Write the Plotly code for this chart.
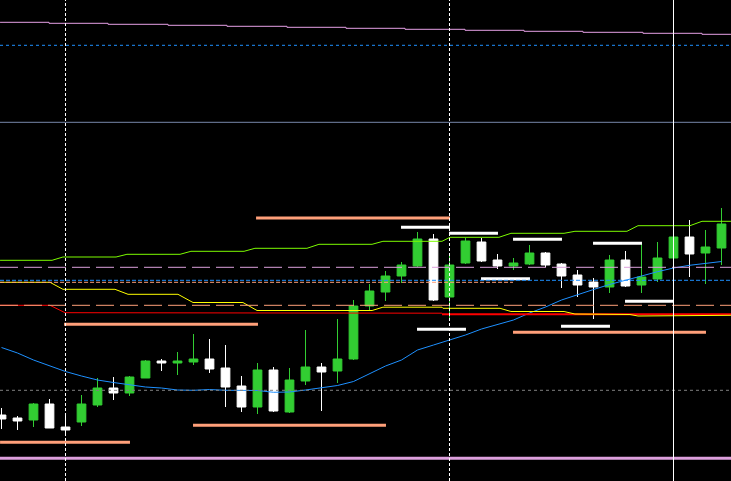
import plotly.graph_objects as go

# candles (x = bar index, prices in chart points)
bar_idx = list(range(46))
opens = [66, 63, 61, 77, 54, 59, 76, 93, 88, 103, 120, 118, 119, 122, 113, 95, 74, 111, 69, 100,
         114, 110, 122, 175, 189, 205, 215, 242, 184, 218, 239, 221, 215, 217, 228, 217, 206, 199,
         194, 221, 196, 202, 223, 244, 228, 233]
highs = [73, 65, 78, 82, 68, 86, 103, 104, 105, 121, 122, 129, 147, 142, 136, 105, 118, 114, 113, 151,
         118, 162, 181, 197, 210, 219, 249, 247, 226, 243, 243, 227, 223, 236, 229, 218, 211, 203,
         226, 230, 237, 239, 249, 261, 251, 273]
lows = [52, 51, 54, 53, 46, 55, 74, 81, 85, 103, 110, 106, 116, 108, 74, 69, 67, 69, 68, 96,
        70, 98, 121, 171, 180, 198, 214, 180, 162, 217, 219, 212, 211, 216, 214, 193, 184, 162,
        188, 194, 188, 199, 219, 204, 197, 216]
closes = [62, 60, 77, 53, 51, 77, 93, 88, 104, 120, 118, 120, 122, 112, 94, 74, 111, 70, 101, 114,
          109, 122, 175, 190, 205, 216, 242, 181, 216, 240, 220, 215, 218, 228, 216, 205, 196, 194,
          221, 195, 204, 223, 244, 227, 234, 257]

# moving average
ma_blue = [133.5, 128, 121, 115, 109.5, 105, 101, 98.5, 96, 94, 93, 91, 90.7, 91.5, 90.7, 90.5,
           90.5, 88.7, 89, 91, 93, 95.5, 99.5, 107.5, 115, 121, 131, 136, 141, 146, 152, 156.5,
           161, 168, 174, 181, 186.5, 191.5, 196.5, 200.5, 205, 209.3, 213, 215.7, 217.5, 219.5]

# higher timeframe lines
top_pink_x = [-0.09, 2.97, 6.66, 10.41, 14.09, 17.84, 21.53, 25.22, 28.97, 32.66, 36.34, 40.09, 43.78, 45.59]
top_pink_y = [458.7, 457.7, 456.7, 455.7, 454.7, 453.7, 452.7, 451.7, 450.7, 449.7, 448.7, 447.7, 446.7, 446.7]

green_x = [-0.09, 3.16, 3.84, 7.16, 7.84, 11.16, 11.84, 15.16, 15.84, 19.09, 19.84, 23.16, 23.84,
           27.53, 28.03, 31.09, 31.84, 35.16, 35.84, 39.09, 39.78, 43.03, 43.78, 45.59]
green_y = [220.7, 220.7, 224, 224, 226.7, 226.7, 229.7, 229.7, 232.7, 232.7, 236.7, 236.7, 239.7,
           239.7, 243.7, 243.7, 247.7, 247.7, 249.7, 249.7, 255.3, 255.3, 259.7, 259.7]

yellow_x = [-0.09, 3.03, 3.84, 7.09, 7.91, 11.03, 11.97, 15.09, 15.97, 23.16, 23.84, 27.53, 27.59,
            31.16, 31.84, 35.16, 35.84, 39.28, 39.78, 43.47, 43.53, 45.59]
yellow_y = [198.7, 198.7, 191.7, 191.7, 186.7, 186.7, 178.5, 178.5, 170.5, 170.5, 173.8, 173.8, 172.7,
            172.7, 169.5, 169.5, 167, 166.5, 165, 165, 165.7, 165.7]

red_x = [-0.09, 3.03, 3.97, 27.53]
red_y = [175.7, 175.7, 168.3, 167.8]
red2_x = [27.53, 45.59]
red2_y = [166.7, 166.7]

orange_dot_x = [-0.09, 31.97]
orange_dot_y = [198.7, 198.7]

# thick level segments
salmon_start = [-0.09, 3.91, 11.97, 15.91, 31.97]
salmon_end = [8.03, 16.03, 24.03, 28.03, 44.03]
salmon_level = [38.7, 156.7, 55.7, 263, 148.7]

white_start = [24.97, 27.97, 31.97, 36.97, 29.97, 25.97, 38.97, 34.97]
white_end = [28.03, 31.03, 35.03, 40.03, 33.03, 29.03, 42.03, 38.03]
white_level = [253.7, 247.7, 241.7, 237.7, 202.3, 151.7, 179.7, 154.7]

separators = [4, 28]
vline_solid = 42


def segments(starts, ends, levels):
    xs, ys = [], []
    for a, b, lv in zip(starts, ends, levels):
        xs += [a, b, None]
        ys += [lv, lv, None]
    return xs, ys


fig = go.Figure()

fig.add_trace(go.Candlestick(
    x=bar_idx, open=opens, high=highs, low=lows, close=closes,
    increasing=dict(line=dict(color='#32CD32', width=1), fillcolor='#32CD32'),
    decreasing=dict(line=dict(color='#FFFFFF', width=1), fillcolor='#FFFFFF'),
    whiskerwidth=0, hoverinfo='skip'
))

fig.add_trace(go.Scatter(x=bar_idx, y=ma_blue, mode='lines', line=dict(color='#1E90FF', width=1)))
fig.add_trace(go.Scatter(x=top_pink_x, y=top_pink_y, mode='lines', line=dict(color='#E6A0E6', width=1, shape='hv')))
fig.add_trace(go.Scatter(x=green_x, y=green_y, mode='lines', line=dict(color='#7CFC00', width=1)))
fig.add_trace(go.Scatter(x=red_x, y=red_y, mode='lines', line=dict(color='#FF0000', width=1)))
fig.add_trace(go.Scatter(x=red2_x, y=red2_y, mode='lines', line=dict(color='#FF0000', width=2)))
fig.add_trace(go.Scatter(x=yellow_x, y=yellow_y, mode='lines', line=dict(color='#FFFF00', width=1)))
fig.add_trace(go.Scatter(x=orange_dot_x, y=orange_dot_y, mode='lines',
                         line=dict(color='#FFA07A', width=1, dash='4px,2px')))

# full width levels
fig.add_hline(y=435.7, line=dict(color='#1E90FF', width=1, dash='3px,3px'))
fig.add_hline(y=358.7, line=dict(color='#7788AA', width=1))
fig.add_hline(y=213.7, line=dict(color='#DDA0DD', width=1, dash='18px,6px'))
fig.add_hline(y=200.7, line=dict(color='#1E90FF', width=1, dash='4px,2px'))
fig.add_hline(y=175.7, line=dict(color='#FFA07A', width=1, dash='18px,6px'))
fig.add_hline(y=90.7, line=dict(color='#808080', width=1, dash='3px,3px'))
fig.add_hline(y=22.7, line=dict(color='#DDA0DD', width=3))

sx, sy = segments(salmon_start, salmon_end, salmon_level)
fig.add_trace(go.Scatter(x=sx, y=sy, mode='lines', line=dict(color='#FFA07A', width=3)))
wx, wy = segments(white_start, white_end, white_level)
fig.add_trace(go.Scatter(x=wx, y=wy, mode='lines', line=dict(color='#FFFFFF', width=3)))

for s in separators:
    fig.add_vline(x=s, line=dict(color='#FFFFFF', width=1, dash='3px,2px'))
fig.add_vline(x=vline_solid, line=dict(color='#FFFFFF', width=1))

fig.update_layout(
    width=731, height=481,
    margin=dict(l=0, r=0, t=0, b=0),
    paper_bgcolor='#000000', plot_bgcolor='#000000',
    showlegend=False,
    boxgap=0.22,
    xaxis=dict(range=[-0.094, 45.594], visible=False, rangeslider=dict(visible=False)),
    yaxis=dict(range=[0, 481], visible=False),
)

# page body margin off so the chart fills the window
fig.write_html("out.html", config={'displayModeBar': False},
               post_script="document.body.style.margin='0';document.body.style.background='#000';")
